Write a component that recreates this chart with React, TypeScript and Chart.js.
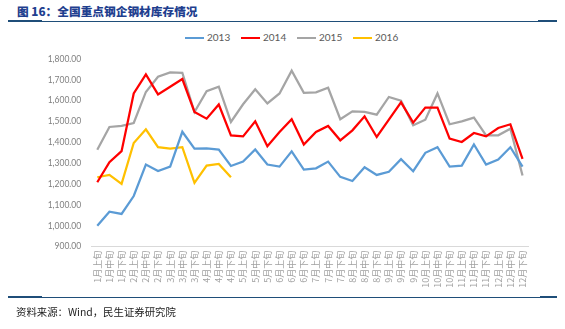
import React, { useEffect, useRef } from "react";
import { Chart, registerables } from "chart.js";

Chart.register(...registerables);

const months = ["1月", "2月", "3月", "4月", "5月", "6月", "7月", "8月", "9月", "10月", "11月", "12月"];
const dekads = ["上旬", "中旬", "下旬"];
const categories = months.flatMap((m) => dekads.map((d) => m + d));

const s2013 = [1000, 1068, 1057, 1143, 1294, 1263, 1284, 1451, 1370, 1372, 1366, 1287, 1308, 1366, 1294, 1284, 1357, 1270, 1276, 1308, 1235, 1215, 1281, 1244, 1259, 1320, 1262, 1350, 1377, 1284, 1289, 1390, 1294, 1318, 1377, 1284];
const s2014 = [1209, 1305, 1358, 1635, 1726, 1630, 1667, 1704, 1546, 1514, 1582, 1434, 1429, 1501, 1382, 1450, 1511, 1390, 1450, 1479, 1410, 1458, 1525, 1426, 1509, 1592, 1495, 1567, 1567, 1418, 1402, 1445, 1429, 1469, 1487, 1321];
const s2015 = [1365, 1474, 1479, 1493, 1642, 1715, 1736, 1734, 1546, 1646, 1667, 1498, 1583, 1655, 1587, 1635, 1744, 1638, 1640, 1662, 1511, 1549, 1546, 1533, 1618, 1600, 1482, 1509, 1635, 1487, 1501, 1519, 1434, 1434, 1466, 1241];
const s2016 = [1233, 1244, 1201, 1397, 1463, 1377, 1370, 1377, 1206, 1289, 1297, 1233];

const seriesNames = ["2013", "2014", "2015", "2016"];
const seriesColors = ["#5B9BD5", "#FF0000", "#A5A5A5", "#FFC000"];
const seriesData = [s2013, s2014, s2015, s2016];

const yMin = 900;
const yMax = 1800;
const yStep = 100;

const titleText = "图 16：全国重点钢企钢材库存情况";
const sourceText = "资料来源：Wind，民生证券研究院";

export default function App() {
  const canvasRef = useRef<HTMLCanvasElement | null>(null);

  useEffect(() => {
    if (!canvasRef.current) return;
    const chart = new Chart(canvasRef.current, {
      type: "line",
      data: {
        labels: categories,
        datasets: seriesData.map((d, i) => ({
          label: seriesNames[i],
          data: d,
          borderColor: seriesColors[i],
          backgroundColor: seriesColors[i],
          borderWidth: 2.25,
          pointRadius: 0,
          tension: 0,
          fill: false,
        })),
      },
      options: {
        animation: false,
        responsive: false,
        maintainAspectRatio: false,
        layout: { padding: { top: 59, left: 0, right: 36.4, bottom: 0 } },
        plugins: { legend: { display: false }, tooltip: { enabled: false }, title: { display: false } },
        scales: {
          x: {
            type: "category",
            offset: true,
            grid: { display: false, drawTicks: false },
            border: { display: true, color: "#d9d9d9", width: 1 },
            ticks: {
              autoSkip: false,
              minRotation: 90,
              maxRotation: 90,
              padding: 4,
              color: "#a0a0a0",
              font: { family: "'Noto Sans CJK SC', sans-serif", size: 9 },
            },
            afterFit: (scale: any) => {
              scale.height = 53.3;
            },
          },
          y: {
            min: yMin,
            max: yMax,
            grid: { display: false, drawTicks: false },
            border: { display: false },
            ticks: {
              stepSize: yStep,
              padding: 10,
              color: "#808080",
              font: { family: "Lato, sans-serif", size: 8.5 },
              callback: (v: any) =>
                Number(v).toLocaleString("en-US", { minimumFractionDigits: 2, maximumFractionDigits: 2 }),
            },
            afterFit: (scale: any) => {
              scale.width = 91.2;
            },
          },
        },
      },
    });
    return () => chart.destroy();
  }, []);

  const legendX = [185, 241, 297, 353];

  return (
    <div style={{ position: "fixed", left: 0, top: 0, width: 565, height: 329, background: "#fff", overflow: "hidden" }}>
      <div
        style={{
          position: "absolute",
          left: 17,
          top: 3,
          fontFamily: "'Noto Sans CJK SC', sans-serif",
          fontWeight: 900,
          fontSize: 11.7,
          lineHeight: "15px",
          color: "#1F3F8F",
          whiteSpace: "nowrap",
        }}
      >
        {titleText}
      </div>
      <div style={{ position: "absolute", left: 8, top: 20.5, width: 549, height: 1, background: "#1F4E79" }} />
      <div style={{ position: "absolute", left: 8, top: 20, width: 34, height: 2, background: "#1F4E79" }} />
      <div style={{ position: "absolute", left: 538, top: 20, width: 19, height: 2, background: "#1F4E79" }} />

      {seriesNames.map((n, i) => (
        <div key={n} style={{ position: "absolute", left: legendX[i], top: 30, height: 14, width: 60 }}>
          <div style={{ position: "absolute", left: 0, top: 6.5, width: 19, height: 2, background: seriesColors[i] }} />
          <div
            style={{
              position: "absolute",
              left: 22,
              top: 0,
              fontFamily: "Lato, sans-serif",
              fontSize: 10,
              lineHeight: "14px",
              color: "#595959",
              whiteSpace: "nowrap",
            }}
          >
            {n}
          </div>
        </div>
      ))}

      <canvas ref={canvasRef} width={565} height={300} style={{ position: "absolute", left: 0, top: 0, width: 565, height: 300 }} />

      <div style={{ position: "absolute", left: 8, top: 296.5, width: 549, height: 1, background: "#1F4E79" }} />
      <div style={{ position: "absolute", left: 8, top: 296, width: 34, height: 2, background: "#1F4E79" }} />
      <div style={{ position: "absolute", left: 540, top: 296, width: 17, height: 2, background: "#1F4E79" }} />
      <div
        style={{
          position: "absolute",
          left: 16,
          top: 304,
          fontFamily: "'Noto Sans CJK SC', sans-serif",
          fontSize: 10.4,
          lineHeight: "15px",
          color: "#222",
          whiteSpace: "nowrap",
        }}
      >
        {sourceText}
      </div>
    </div>
  );
}
